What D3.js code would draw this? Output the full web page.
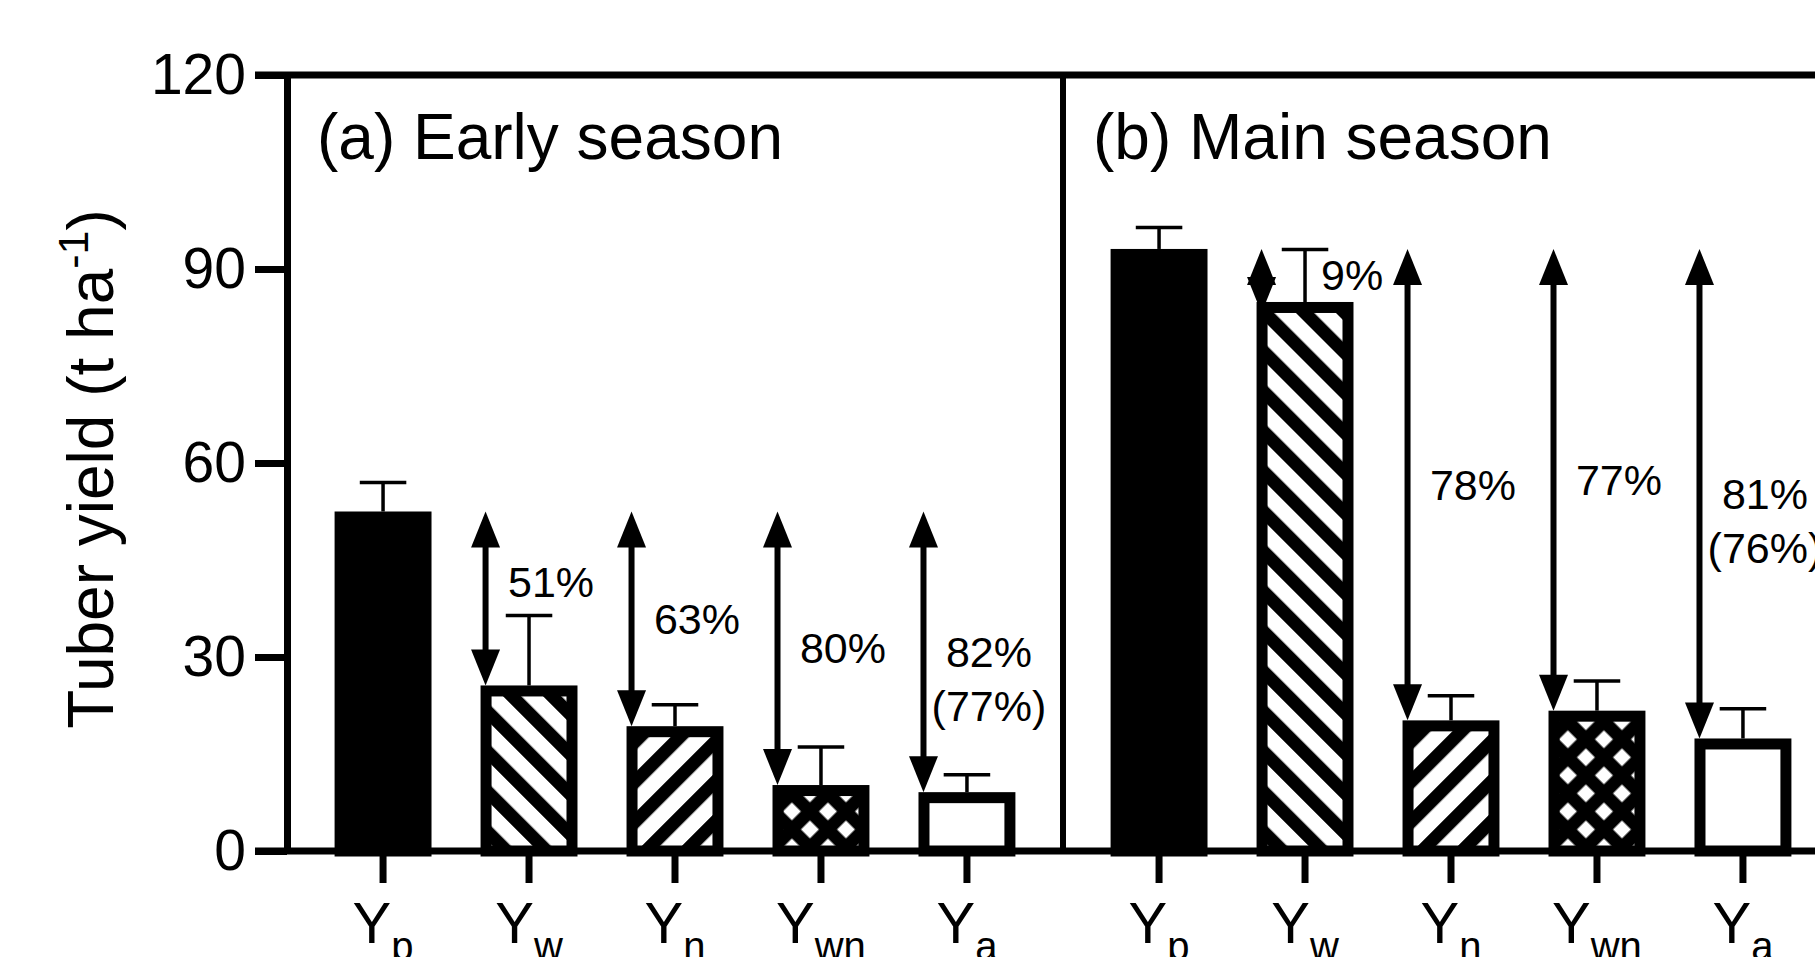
<!DOCTYPE html>
<html><head><meta charset="utf-8">
<script src="https://cdn.jsdelivr.net/npm/d3@7"></script>
<style>body{margin:0;background:#fff;} svg{display:block;font-family:"Liberation Sans",Arial,Helvetica,sans-serif;}</style>
</head><body><svg id="c" width="1815" height="957"></svg>
<script>
const categories = ["Yp","Yw","Yn","Ywn","Ya"];
const subscripts = ["p","w","n","wn","a"];
const panelTitles = ["(a) Early season","(b) Main season"];
const earlyMean = [52.5, 25.6, 19.3, 10.2, 9.1];
const earlySD   = [4.5, 10.8, 3.3, 5.9, 2.7];
const mainMean  = [93.1, 84.9, 20.2, 21.7, 17.4];
const mainSD    = [3.3, 8.1, 3.8, 4.6, 4.6];
const earlyGap  = [[], ["51%"], ["63%"], ["80%"], ["82%","(77%)"]];
const mainGap   = [[], ["9%"], ["78%"], ["77%"], ["81%","(76%)"]];
const yTicks    = [0, 30, 60, 90, 120];
const fills     = ["solid","back","fwd","cross","open"];

(function(){
const panels = [
  {title: panelTitles[0], mean: earlyMean, sd: earlySD, gap: earlyGap},
  {title: panelTitles[1], mean: mainMean, sd: mainSD, gap: mainGap}
];

const svg = d3.select("#c");
const leftX = 287, topY = 75, bottomY = 851, panelW = 776;
const y = d3.scaleLinear().domain([0,120]).range([bottomY, topY]);
const px = d3.scaleBand().domain(d3.range(panels.length)).range([leftX, leftX + panels.length*panelW]);
const x = d3.scaleBand().domain(categories).range([0, panelW]).paddingInner(0.336).paddingOuter(0.326);
const bw = x.bandwidth();

const defs = svg.append("defs");
function stripes(id, angle){
  const P = 28.3, t = 13;
  const p = defs.append("pattern").attr("id", id).attr("patternUnits","userSpaceOnUse")
    .attr("width", P).attr("height", P).attr("patternTransform", `rotate(${angle})`);
  p.append("rect").attr("width",P).attr("height",P).attr("fill","#fff");
  p.append("rect").attr("width",t).attr("height",P).attr("fill","#000");
}
stripes("back", -45);
stripes("fwd", 45);
{
  const s = 25.5, t = 12.8;
  const p = defs.append("pattern").attr("id","cross").attr("patternUnits","userSpaceOnUse")
    .attr("width", s).attr("height", s).attr("patternTransform","rotate(45)");
  p.append("rect").attr("width",s).attr("height",s).attr("fill","#000");
  p.append("rect").attr("x",t/2).attr("y",t/2).attr("width",s-t).attr("height",s-t).attr("fill","#fff");
}
const fillOf = f => f==="solid" ? "#000" : f==="open" ? "#fff" : `url(#${f})`;

const sw = 11, headW = 29, headL = 36, capW = bw*0.48;

panels.forEach((P, pi) => {
  const g = svg.append("g").attr("transform", `translate(${px(pi)},0)`);
  g.selectAll("rect.bar").data(categories).join("rect").attr("class","bar")
    .attr("x", c => x(c) + sw/2)
    .attr("width", bw - sw)
    .attr("y", (c,i) => y(P.mean[i]) + sw/2)
    .attr("height", (c,i) => bottomY - y(P.mean[i]) - sw/2)
    .attr("fill", (c,i) => fillOf(fills[i]))
    .attr("stroke", "#000").attr("stroke-width", sw);
  categories.forEach((c,i) => {
    const cx = x(c) + bw/2, y0 = y(P.mean[i]), y1 = y(P.mean[i] + P.sd[i]);
    g.append("line").attr("x1",cx).attr("x2",cx).attr("y1",y0).attr("y2",y1)
      .attr("stroke","#000").attr("stroke-width",3.5);
    g.append("line").attr("x1",cx-capW/2).attr("x2",cx+capW/2).attr("y1",y1).attr("y2",y1)
      .attr("stroke","#000").attr("stroke-width",3.5);
  });
  categories.forEach((c,i) => {
    if (!P.gap[i].length) return;
    const ax = x(c) + 5, ya0 = y(P.mean[0]);
    const short = y(P.mean[i]) - ya0 < 100;
    const yb = short ? y(P.mean[i]) + sw : y(P.mean[i]);
    if (yb - ya0 > 2*headL) {
      g.append("line").attr("x1",ax).attr("x2",ax).attr("y1",ya0+headL-2).attr("y2",yb-headL+2)
        .attr("stroke","#000").attr("stroke-width",6);
    }
    g.append("path").attr("d", `M${ax},${ya0}L${ax-headW/2},${ya0+headL}L${ax+headW/2},${ya0+headL}Z`).attr("fill","#000");
    g.append("path").attr("d", `M${ax},${yb}L${ax-headW/2},${yb-headL}L${ax+headW/2},${yb-headL}Z`).attr("fill","#000");
    const cx = x(c) + bw/2;
    const capY = y(P.mean[i] + P.sd[i]);
    let ym = (ya0 + y(P.mean[i]))/2;
    if (!short && ym + 18 > capY - 8) ym = capY - 34;
    P.gap[i].forEach((t,j) => {
      g.append("text").attr("x", short ? cx + 16 : cx + 22).attr("y", ym + j*54)
        .attr("text-anchor", short ? "start" : "middle").attr("dominant-baseline","central")
        .attr("font-size", 43).attr("fill","#000").text(t);
    });
  });
  g.append("text").attr("x", 30).attr("y", 159).attr("font-size", 64).attr("fill","#000").text(P.title);
  if (pi > 0) g.append("line").attr("x1",0).attr("x2",0).attr("y1",topY).attr("y2",bottomY)
    .attr("stroke","#000").attr("stroke-width",6);
  categories.forEach((c,i) => {
    const cx = x(c) + bw/2;
    g.append("line").attr("x1",cx).attr("x2",cx).attr("y1",bottomY).attr("y2",bottomY+32)
      .attr("stroke","#000").attr("stroke-width",7);
    const t = g.append("text").attr("x",cx).attr("y",943).attr("text-anchor","middle").attr("fill","#000");
    t.append("tspan").attr("font-size",58).text("Y");
    t.append("tspan").attr("font-size",40).attr("dy",17).text(subscripts[i]);
  });
});

svg.append("line").attr("x1", leftX-32).attr("x2", 1815).attr("y1", y(120)).attr("y2", y(120))
  .attr("stroke","#000").attr("stroke-width",7);
svg.append("line").attr("x1", leftX-32).attr("x2", 1815).attr("y1", y(0)).attr("y2", y(0))
  .attr("stroke","#000").attr("stroke-width",7);

const ya = svg.append("g").attr("transform", `translate(${leftX},0)`)
  .call(d3.axisLeft(y).tickValues(yTicks).tickSize(32).tickPadding(9).tickSizeOuter(0));
ya.select(".domain").attr("stroke-width",7);
ya.selectAll(".tick line").attr("stroke-width",7);
ya.selectAll(".tick text").attr("font-size",57).attr("fill","#000")
  .attr("font-family",'"Liberation Sans",Arial,sans-serif');

const ttl = svg.append("text").attr("transform", `translate(113,${(topY+bottomY)/2 + 6}) rotate(-90)`)
  .attr("text-anchor","middle").attr("font-size",64).attr("fill","#000");
ttl.append("tspan").text("Tuber yield (t ha");
ttl.append("tspan").attr("font-size",43).attr("dy",-25).text("-1");
ttl.append("tspan").attr("dy",25).text(")");
})();
</script></body></html>
